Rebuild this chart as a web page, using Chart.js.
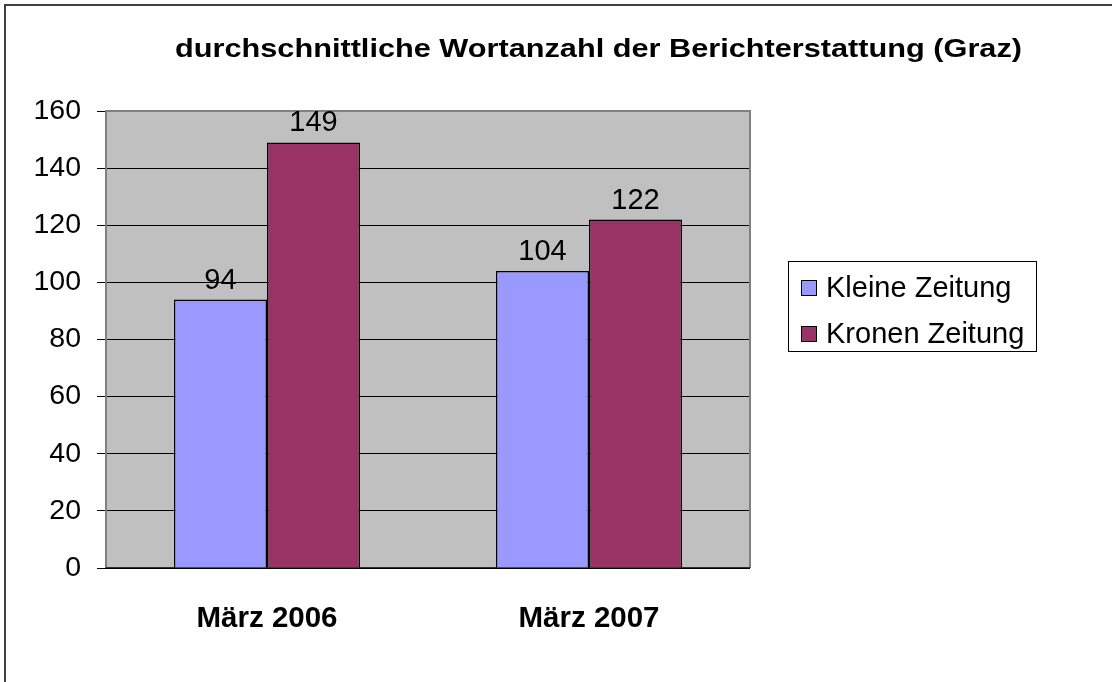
<!DOCTYPE html>
<html>
<head>
<meta charset="utf-8">
<script src="https://cdn.jsdelivr.net/npm/chart.js@4"></script>
<style>
  html, body { margin: 0; padding: 0; background: #fff; }
  canvas { display: block; }
</style>
</head>
<body>
<canvas id="wordChart" width="1112" height="682"></canvas>
<script>
// data
const categories = ['März 2006', 'März 2007'];
const seriesNames = ['Kleine Zeitung', 'Kronen Zeitung'];
const kleineZeitung = [94, 104];
const kronenZeitung = [149, 122];
const yTicks = [0, 20, 40, 60, 80, 100, 120, 140, 160];
const chartTitle = 'durchschnittliche Wortanzahl der Berichterstattung (Graz)';

const FONT = '"Liberation Sans", Arial, sans-serif';

// white page, dark frame, grey plot background
const backdrop = {
    id: 'backdrop',
    beforeDraw(chart) {
        const { ctx, chartArea: a } = chart;
        ctx.save();
        ctx.fillStyle = '#fff';
        ctx.fillRect(0, 0, chart.width, chart.height);
        ctx.strokeStyle = '#404040';
        ctx.lineWidth = 2;
        ctx.beginPath();
        ctx.moveTo(5, chart.height);
        ctx.lineTo(5, 5);
        ctx.lineTo(chart.width, 5);
        ctx.stroke();
        ctx.fillStyle = '#C0C0C0';
        ctx.fillRect(a.left, a.top, a.right - a.left, a.bottom - a.top);
        ctx.restore();
    },
    beforeDatasetsDraw(chart) {
        const { ctx, chartArea: a } = chart;
        ctx.save();
        ctx.strokeStyle = '#808080';
        ctx.lineWidth = 2;
        ctx.beginPath();
        ctx.moveTo(a.left, a.bottom);
        ctx.lineTo(a.left, a.top);
        ctx.lineTo(a.right, a.top);
        ctx.lineTo(a.right, a.bottom);
        ctx.stroke();
        ctx.strokeStyle = '#000';
        ctx.lineWidth = 1.5;
        ctx.beginPath();
        ctx.moveTo(a.left, a.bottom);
        ctx.lineTo(a.right, a.bottom);
        ctx.stroke();
        ctx.restore();
    }
};

// value labels above bars, title, boxed legend
const extras = {
    id: 'extras',
    afterDatasetsDraw(chart) {
        const { ctx } = chart;
        ctx.save();
        ctx.font = '29px ' + FONT;
        ctx.fillStyle = '#000';
        ctx.textAlign = 'center';
        ctx.textBaseline = 'alphabetic';
        chart.data.datasets.forEach((ds, i) => {
            chart.getDatasetMeta(i).data.forEach((bar, j) => {
                ctx.fillText(String(ds.data[j]), bar.x, bar.y - 11);
            });
        });
        ctx.restore();
    },
    afterDraw(chart) {
        const { ctx } = chart;
        ctx.save();
        // title, stretched horizontally like the reference
        ctx.font = 'bold 26px ' + FONT;
        ctx.fillStyle = '#000';
        ctx.textBaseline = 'alphabetic';
        ctx.textAlign = 'center';
        const w = ctx.measureText(chartTitle).width;
        const sx = 847 / w;
        ctx.translate(598.5, 57);
        ctx.scale(sx, 1);
        ctx.fillText(chartTitle, 0, 0);
        ctx.restore();

        // legend
        ctx.save();
        const lx = 788, ly = 261, lw = 248, lh = 90;
        ctx.strokeStyle = '#000';
        ctx.lineWidth = 1;
        ctx.strokeRect(lx + 0.5, ly + 0.5, lw, lh);
        ctx.font = '29px ' + FONT;
        ctx.textAlign = 'left';
        ctx.textBaseline = 'middle';
        chart.data.datasets.forEach((ds, i) => {
            const cy = 288 + i * 46;
            ctx.fillStyle = ds.backgroundColor;
            ctx.fillRect(801, cy - 8, 16, 16);
            ctx.strokeStyle = '#000';
            ctx.strokeRect(801.5, cy - 7.5, 15, 15);
            ctx.fillStyle = '#000';
            ctx.fillText(ds.label, 826, cy + 1);
        });
        ctx.restore();
    }
};

new Chart(document.getElementById('wordChart'), {
    type: 'bar',
    data: {
        labels: categories,
        datasets: [
            { label: seriesNames[0], data: kleineZeitung, backgroundColor: '#9999FF', borderColor: '#000', borderWidth: 1.5 },
            { label: seriesNames[1], data: kronenZeitung, backgroundColor: '#993366', borderColor: '#000', borderWidth: 1.5 }
        ]
    },
    options: {
        responsive: false,
        animation: false,
        categoryPercentage: 0.578,
        barPercentage: 1,
        layout: { padding: { top: 111, left: 0, right: 362, bottom: 0 } },
        plugins: { legend: { display: false }, title: { display: false }, tooltip: { enabled: false } },
        scales: {
            x: {
                grid: { display: false, drawTicks: false },
                border: { display: false },
                ticks: { color: '#000', font: { family: FONT, size: 29.5, weight: 'bold' }, padding: 33 },
                afterFit(s) { s.height = 114; }
            },
            y: {
                min: 0,
                max: 160,
                afterBuildTicks(s) { s.ticks = yTicks.map(v => ({ value: v })); },
                grid: { color: '#000', lineWidth: 1, tickLength: 9 },
                border: { display: false },
                ticks: { color: '#000', font: { family: FONT, size: 28.5 }, padding: 16 },
                afterFit(s) { s.width = 106; }
            }
        }
    },
    plugins: [backdrop, extras]
});
</script>
</body>
</html>
